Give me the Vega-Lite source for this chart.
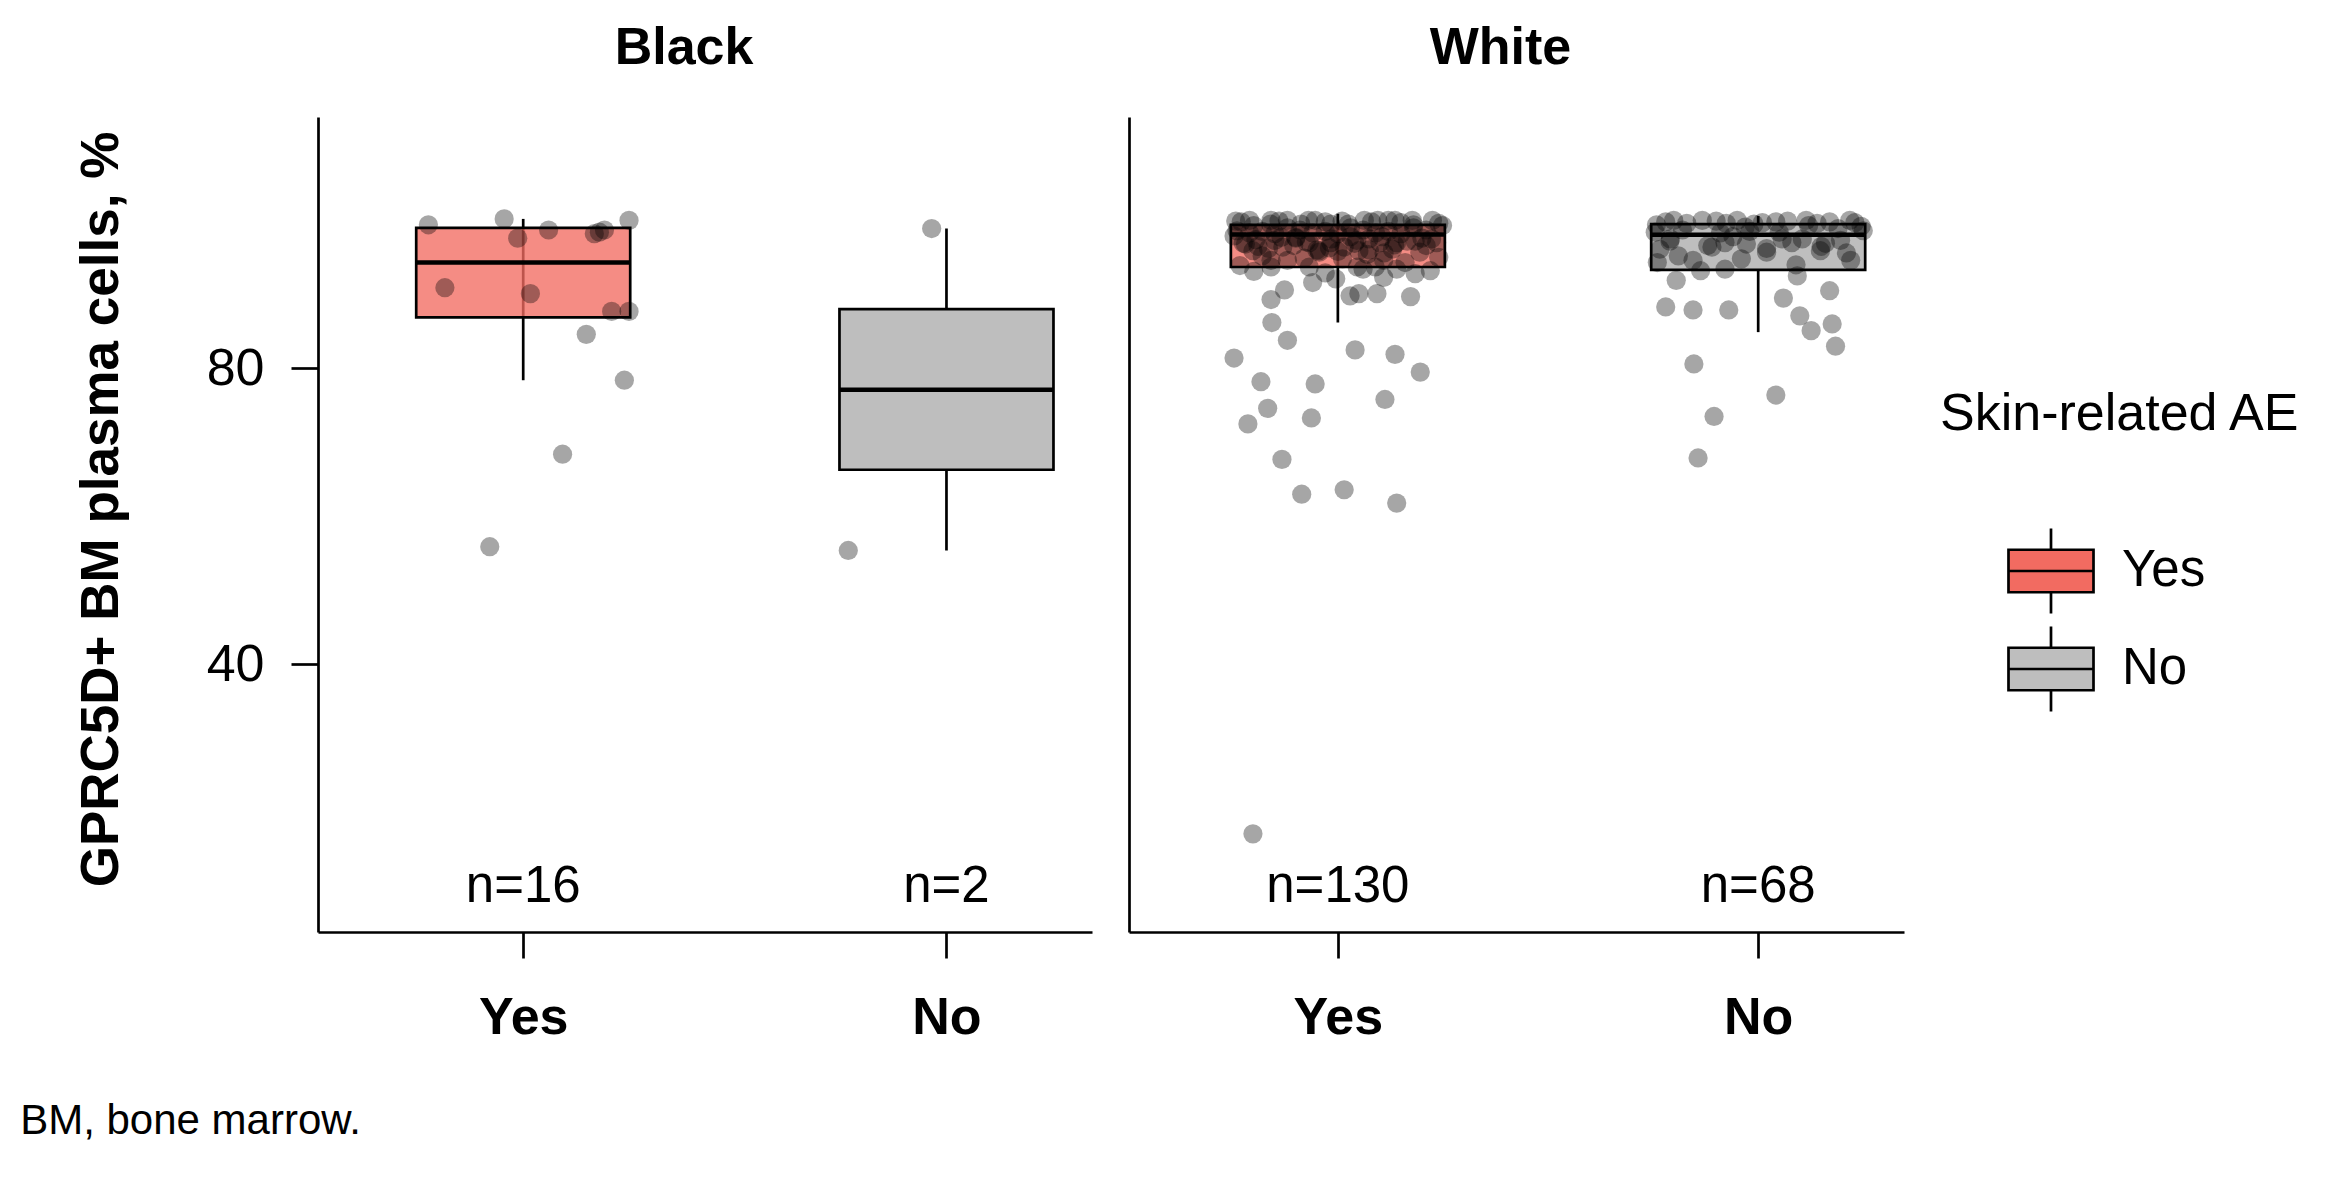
{
  "$schema": "https://vega.github.io/schema/vega-lite/v6.json",
  "background": "white",
  "padding": {"left": 20, "top": 22, "right": 5, "bottom": 5},
  "title": {"text": "BM, bone marrow.", "orient": "bottom", "anchor": "start", "frame": "bounds", "fontSize": 42, "fontWeight": "normal", "color": "black", "dx": -55, "offset": 91, "baseline": "alphabetic", "font": "Liberation Sans"},
  "datasets": {
    "box": [
      {"race": "Black", "ae": "Yes", "lo": 78.4, "q1": 86.9, "med": 94.3, "q3": 99.0, "hi": 100.2},
      {"race": "Black", "ae": "No", "lo": 55.4, "q1": 66.3, "med": 77.1, "q3": 88.0, "hi": 98.9},
      {"race": "White", "ae": "Yes", "lo": 86.2, "q1": 93.7, "med": 98.1, "q3": 99.4, "hi": 100.9},
      {"race": "White", "ae": "No", "lo": 84.9, "q1": 93.3, "med": 98.05, "q3": 99.5, "hi": 100.6}
    ],
    "nlab": [
      {"race": "Black", "ae": "Yes", "label": "n=16"},
      {"race": "Black", "ae": "No", "label": "n=2"},
      {"race": "White", "ae": "Yes", "label": "n=130"},
      {"race": "White", "ae": "No", "label": "n=68"}
    ],
    "pts": [
      {"race": "Black", "ae": "Yes", "v": 99.4, "j": -0.224},
      {"race": "Black", "ae": "Yes", "v": 100.2, "j": -0.045},
      {"race": "Black", "ae": "Yes", "v": 97.6, "j": -0.013},
      {"race": "Black", "ae": "Yes", "v": 98.7, "j": 0.06},
      {"race": "Black", "ae": "Yes", "v": 98.2, "j": 0.168},
      {"race": "Black", "ae": "Yes", "v": 98.7, "j": 0.192},
      {"race": "Black", "ae": "Yes", "v": 100.0, "j": 0.25},
      {"race": "Black", "ae": "Yes", "v": 90.9, "j": -0.185},
      {"race": "Black", "ae": "Yes", "v": 90.1, "j": 0.017},
      {"race": "Black", "ae": "Yes", "v": 87.7, "j": 0.209},
      {"race": "Black", "ae": "Yes", "v": 87.7, "j": 0.25},
      {"race": "Black", "ae": "Yes", "v": 84.6, "j": 0.149},
      {"race": "Black", "ae": "Yes", "v": 78.4, "j": 0.239},
      {"race": "Black", "ae": "Yes", "v": 68.4, "j": 0.093},
      {"race": "Black", "ae": "Yes", "v": 55.9, "j": -0.079},
      {"race": "Black", "ae": "Yes", "v": 98.4, "j": 0.18},
      {"race": "Black", "ae": "No", "v": 98.9, "j": -0.035},
      {"race": "Black", "ae": "No", "v": 55.4, "j": -0.232},

      {"race": "White", "ae": "Yes", "v": 99.9, "j": -0.243},
      {"race": "White", "ae": "Yes", "v": 99.3, "j": -0.2},
      {"race": "White", "ae": "Yes", "v": 100.0, "j": -0.159},
      {"race": "White", "ae": "Yes", "v": 100.0, "j": -0.12},
      {"race": "White", "ae": "Yes", "v": 99.5, "j": -0.088},
      {"race": "White", "ae": "Yes", "v": 100.0, "j": -0.054},
      {"race": "White", "ae": "Yes", "v": 99.5, "j": -0.017},
      {"race": "White", "ae": "Yes", "v": 99.5, "j": 0.025},
      {"race": "White", "ae": "Yes", "v": 100.0, "j": 0.063},
      {"race": "White", "ae": "Yes", "v": 100.0, "j": 0.095},
      {"race": "White", "ae": "Yes", "v": 100.0, "j": 0.136},
      {"race": "White", "ae": "Yes", "v": 100.0, "j": 0.177},
      {"race": "White", "ae": "Yes", "v": 100.0, "j": 0.225},
      {"race": "White", "ae": "Yes", "v": 99.3, "j": 0.249},
      {"race": "White", "ae": "Yes", "v": 97.9, "j": -0.247},
      {"race": "White", "ae": "Yes", "v": 95.9, "j": -0.202},
      {"race": "White", "ae": "Yes", "v": 94.6, "j": -0.159},
      {"race": "White", "ae": "Yes", "v": 96.4, "j": -0.131},
      {"race": "White", "ae": "Yes", "v": 97.0, "j": -0.068},
      {"race": "White", "ae": "Yes", "v": 95.7, "j": -0.044},
      {"race": "White", "ae": "Yes", "v": 97.0, "j": -0.017},
      {"race": "White", "ae": "Yes", "v": 94.8, "j": 0.011},
      {"race": "White", "ae": "Yes", "v": 95.9, "j": 0.05},
      {"race": "White", "ae": "Yes", "v": 97.5, "j": 0.074},
      {"race": "White", "ae": "Yes", "v": 97.0, "j": 0.14},
      {"race": "White", "ae": "Yes", "v": 97.2, "j": 0.184},
      {"race": "White", "ae": "Yes", "v": 97.5, "j": 0.223},
      {"race": "White", "ae": "Yes", "v": 94.6, "j": 0.109},
      {"race": "White", "ae": "Yes", "v": 93.9, "j": -0.233},
      {"race": "White", "ae": "Yes", "v": 93.7, "j": -0.159},
      {"race": "White", "ae": "Yes", "v": 94.6, "j": -0.12},
      {"race": "White", "ae": "Yes", "v": 93.7, "j": -0.068},
      {"race": "White", "ae": "Yes", "v": 91.6, "j": -0.06},
      {"race": "White", "ae": "Yes", "v": 92.1, "j": -0.005},
      {"race": "White", "ae": "Yes", "v": 93.7, "j": 0.046},
      {"race": "White", "ae": "Yes", "v": 93.7, "j": 0.089},
      {"race": "White", "ae": "Yes", "v": 92.3, "j": 0.109},
      {"race": "White", "ae": "Yes", "v": 93.4, "j": 0.14},
      {"race": "White", "ae": "Yes", "v": 92.8, "j": 0.184},
      {"race": "White", "ae": "Yes", "v": 90.6, "j": -0.127},
      {"race": "White", "ae": "Yes", "v": 89.3, "j": -0.159},
      {"race": "White", "ae": "Yes", "v": 89.8, "j": 0.029},
      {"race": "White", "ae": "Yes", "v": 90.1, "j": 0.05},
      {"race": "White", "ae": "Yes", "v": 90.1, "j": 0.093},
      {"race": "White", "ae": "Yes", "v": 89.7, "j": 0.173},
      {"race": "White", "ae": "Yes", "v": 86.2, "j": -0.157},
      {"race": "White", "ae": "Yes", "v": 83.8, "j": -0.12},
      {"race": "White", "ae": "Yes", "v": 81.4, "j": -0.247},
      {"race": "White", "ae": "Yes", "v": 82.5, "j": 0.041},
      {"race": "White", "ae": "Yes", "v": 81.9, "j": 0.136},
      {"race": "White", "ae": "Yes", "v": 79.5, "j": 0.196},
      {"race": "White", "ae": "Yes", "v": 78.2, "j": -0.183},
      {"race": "White", "ae": "Yes", "v": 77.9, "j": -0.054},
      {"race": "White", "ae": "Yes", "v": 75.8, "j": 0.112},
      {"race": "White", "ae": "Yes", "v": 74.6, "j": -0.167},
      {"race": "White", "ae": "Yes", "v": 72.5, "j": -0.214},
      {"race": "White", "ae": "Yes", "v": 73.3, "j": -0.063},
      {"race": "White", "ae": "Yes", "v": 67.7, "j": -0.133},
      {"race": "White", "ae": "Yes", "v": 63.0, "j": -0.086},
      {"race": "White", "ae": "Yes", "v": 63.6, "j": 0.015},
      {"race": "White", "ae": "Yes", "v": 61.8, "j": 0.14},
      {"race": "White", "ae": "Yes", "v": 17.1, "j": -0.202},
      {"race": "White", "ae": "Yes", "v": 99.8, "j": -0.23},
      {"race": "White", "ae": "Yes", "v": 96.5, "j": -0.19},
      {"race": "White", "ae": "Yes", "v": 99.9, "j": -0.14},
      {"race": "White", "ae": "Yes", "v": 97.7, "j": -0.1},
      {"race": "White", "ae": "Yes", "v": 100.0, "j": -0.07},
      {"race": "White", "ae": "Yes", "v": 99.8, "j": -0.03},
      {"race": "White", "ae": "Yes", "v": 99.9, "j": 0.01},
      {"race": "White", "ae": "Yes", "v": 96.9, "j": 0.04},
      {"race": "White", "ae": "Yes", "v": 99.8, "j": 0.08},
      {"race": "White", "ae": "Yes", "v": 95.6, "j": 0.11},
      {"race": "White", "ae": "Yes", "v": 99.7, "j": 0.15},
      {"race": "White", "ae": "Yes", "v": 97.6, "j": 0.2},
      {"race": "White", "ae": "Yes", "v": 99.6, "j": 0.24},
      {"race": "White", "ae": "Yes", "v": 100.0, "j": -0.21},
      {"race": "White", "ae": "Yes", "v": 96.0, "j": -0.05},
      {"race": "White", "ae": "Yes", "v": 100.0, "j": 0.12},
      {"race": "White", "ae": "Yes", "v": 99.4, "j": 0.18},
      {"race": "White", "ae": "Yes", "v": 99.5, "j": -0.16},
      {"race": "White", "ae": "Yes", "v": 98.6, "j": -0.24},
      {"race": "White", "ae": "Yes", "v": 96.9, "j": -0.225},
      {"race": "White", "ae": "Yes", "v": 98.3, "j": -0.21},
      {"race": "White", "ae": "Yes", "v": 97.4, "j": -0.195},
      {"race": "White", "ae": "Yes", "v": 98.5, "j": -0.18},
      {"race": "White", "ae": "Yes", "v": 96.2, "j": -0.165},
      {"race": "White", "ae": "Yes", "v": 98.2, "j": -0.15},
      {"race": "White", "ae": "Yes", "v": 97.7, "j": -0.135},
      {"race": "White", "ae": "Yes", "v": 99.0, "j": -0.12},
      {"race": "White", "ae": "Yes", "v": 96.6, "j": -0.105},
      {"race": "White", "ae": "Yes", "v": 98.7, "j": -0.09},
      {"race": "White", "ae": "Yes", "v": 97.1, "j": -0.075},
      {"race": "White", "ae": "Yes", "v": 98.3, "j": -0.06},
      {"race": "White", "ae": "Yes", "v": 95.9, "j": -0.045},
      {"race": "White", "ae": "Yes", "v": 98.5, "j": -0.03},
      {"race": "White", "ae": "Yes", "v": 97.5, "j": -0.015},
      {"race": "White", "ae": "Yes", "v": 98.2, "j": 0.0},
      {"race": "White", "ae": "Yes", "v": 96.4, "j": 0.015},
      {"race": "White", "ae": "Yes", "v": 99.0, "j": 0.03},
      {"race": "White", "ae": "Yes", "v": 97.3, "j": 0.045},
      {"race": "White", "ae": "Yes", "v": 98.7, "j": 0.06},
      {"race": "White", "ae": "Yes", "v": 96.0, "j": 0.075},
      {"race": "White", "ae": "Yes", "v": 98.3, "j": 0.09},
      {"race": "White", "ae": "Yes", "v": 97.8, "j": 0.105},
      {"race": "White", "ae": "Yes", "v": 98.5, "j": 0.12},
      {"race": "White", "ae": "Yes", "v": 96.7, "j": 0.135},
      {"race": "White", "ae": "Yes", "v": 98.2, "j": 0.15},
      {"race": "White", "ae": "Yes", "v": 97.2, "j": 0.165},
      {"race": "White", "ae": "Yes", "v": 99.0, "j": 0.18},
      {"race": "White", "ae": "Yes", "v": 95.7, "j": 0.195},
      {"race": "White", "ae": "Yes", "v": 98.7, "j": 0.21},
      {"race": "White", "ae": "Yes", "v": 97.0, "j": 0.235},
      {"race": "White", "ae": "Yes", "v": 96.8, "j": -0.22},
      {"race": "White", "ae": "Yes", "v": 95.2, "j": -0.18},
      {"race": "White", "ae": "Yes", "v": 97.6, "j": -0.1},
      {"race": "White", "ae": "Yes", "v": 94.9, "j": -0.08},
      {"race": "White", "ae": "Yes", "v": 96.3, "j": -0.02},
      {"race": "White", "ae": "Yes", "v": 97.8, "j": 0.03},
      {"race": "White", "ae": "Yes", "v": 95.4, "j": 0.07},
      {"race": "White", "ae": "Yes", "v": 96.1, "j": 0.13},
      {"race": "White", "ae": "Yes", "v": 94.3, "j": 0.16},
      {"race": "White", "ae": "Yes", "v": 96.6, "j": 0.21},
      {"race": "White", "ae": "Yes", "v": 95.0, "j": 0.24},
      {"race": "White", "ae": "Yes", "v": 97.3, "j": -0.15},
      {"race": "White", "ae": "Yes", "v": 95.8, "j": 0.0},
      {"race": "White", "ae": "Yes", "v": 97.0, "j": 0.1},
      {"race": "White", "ae": "Yes", "v": 93.1, "j": -0.2},
      {"race": "White", "ae": "Yes", "v": 92.9, "j": -0.03},
      {"race": "White", "ae": "Yes", "v": 93.4, "j": 0.06},
      {"race": "White", "ae": "Yes", "v": 93.2, "j": 0.22},

      {"race": "White", "ae": "No", "v": 99.4, "j": -0.242},
      {"race": "White", "ae": "No", "v": 100.0, "j": -0.201},
      {"race": "White", "ae": "No", "v": 100.0, "j": -0.133},
      {"race": "White", "ae": "No", "v": 99.6, "j": -0.076},
      {"race": "White", "ae": "No", "v": 99.1, "j": -0.031},
      {"race": "White", "ae": "No", "v": 99.8, "j": 0.042},
      {"race": "White", "ae": "No", "v": 100.0, "j": 0.114},
      {"race": "White", "ae": "No", "v": 100.0, "j": 0.218},
      {"race": "White", "ae": "No", "v": 98.6, "j": 0.25},
      {"race": "White", "ae": "No", "v": 97.5, "j": -0.209},
      {"race": "White", "ae": "No", "v": 96.1, "j": -0.234},
      {"race": "White", "ae": "No", "v": 94.3, "j": -0.24},
      {"race": "White", "ae": "No", "v": 94.6, "j": -0.155},
      {"race": "White", "ae": "No", "v": 97.0, "j": -0.079},
      {"race": "White", "ae": "No", "v": 96.8, "j": -0.028},
      {"race": "White", "ae": "No", "v": 97.5, "j": 0.057},
      {"race": "White", "ae": "No", "v": 97.5, "j": 0.105},
      {"race": "White", "ae": "No", "v": 95.9, "j": 0.148},
      {"race": "White", "ae": "No", "v": 97.3, "j": 0.196},
      {"race": "White", "ae": "No", "v": 93.2, "j": -0.137},
      {"race": "White", "ae": "No", "v": 93.4, "j": -0.079},
      {"race": "White", "ae": "No", "v": 91.9, "j": -0.195},
      {"race": "White", "ae": "No", "v": 92.5, "j": 0.093},
      {"race": "White", "ae": "No", "v": 90.5, "j": 0.17},
      {"race": "White", "ae": "No", "v": 88.3, "j": -0.22},
      {"race": "White", "ae": "No", "v": 87.9, "j": -0.155},
      {"race": "White", "ae": "No", "v": 87.9, "j": -0.07},
      {"race": "White", "ae": "No", "v": 89.5, "j": 0.06},
      {"race": "White", "ae": "No", "v": 87.1, "j": 0.099},
      {"race": "White", "ae": "No", "v": 85.1, "j": 0.126},
      {"race": "White", "ae": "No", "v": 86.0, "j": 0.176},
      {"race": "White", "ae": "No", "v": 83.0, "j": 0.184},
      {"race": "White", "ae": "No", "v": 80.6, "j": -0.153},
      {"race": "White", "ae": "No", "v": 76.4, "j": 0.042},
      {"race": "White", "ae": "No", "v": 73.5, "j": -0.105},
      {"race": "White", "ae": "No", "v": 67.9, "j": -0.143},
      {"race": "White", "ae": "No", "v": 99.8, "j": -0.22},
      {"race": "White", "ae": "No", "v": 99.6, "j": -0.17},
      {"race": "White", "ae": "No", "v": 99.9, "j": -0.1},
      {"race": "White", "ae": "No", "v": 100.0, "j": -0.05},
      {"race": "White", "ae": "No", "v": 99.7, "j": 0.01},
      {"race": "White", "ae": "No", "v": 99.9, "j": 0.07},
      {"race": "White", "ae": "No", "v": 99.6, "j": 0.14},
      {"race": "White", "ae": "No", "v": 99.8, "j": 0.17},
      {"race": "White", "ae": "No", "v": 99.7, "j": 0.23},
      {"race": "White", "ae": "No", "v": 99.5, "j": -0.01},
      {"race": "White", "ae": "No", "v": 98.4, "j": -0.245},
      {"race": "White", "ae": "No", "v": 97.2, "j": -0.21},
      {"race": "White", "ae": "No", "v": 98.7, "j": -0.18},
      {"race": "White", "ae": "No", "v": 96.6, "j": -0.12},
      {"race": "White", "ae": "No", "v": 98.3, "j": -0.09},
      {"race": "White", "ae": "No", "v": 97.8, "j": -0.06},
      {"race": "White", "ae": "No", "v": 98.5, "j": -0.02},
      {"race": "White", "ae": "No", "v": 96.2, "j": 0.02},
      {"race": "White", "ae": "No", "v": 98.4, "j": 0.05},
      {"race": "White", "ae": "No", "v": 97.0, "j": 0.08},
      {"race": "White", "ae": "No", "v": 99.3, "j": 0.12},
      {"race": "White", "ae": "No", "v": 96.5, "j": 0.15},
      {"race": "White", "ae": "No", "v": 98.9, "j": 0.19},
      {"race": "White", "ae": "No", "v": 95.6, "j": 0.21},
      {"race": "White", "ae": "No", "v": 99.2, "j": 0.245},
      {"race": "White", "ae": "No", "v": 95.2, "j": -0.19},
      {"race": "White", "ae": "No", "v": 96.4, "j": -0.11},
      {"race": "White", "ae": "No", "v": 94.8, "j": -0.04},
      {"race": "White", "ae": "No", "v": 95.7, "j": 0.02},
      {"race": "White", "ae": "No", "v": 94.0, "j": 0.09},
      {"race": "White", "ae": "No", "v": 96.9, "j": 0.16},
      {"race": "White", "ae": "No", "v": 94.6, "j": 0.22}
    ]
  },
  "spacing": 37,
  "resolve": {"scale": {"x": "independent", "y": "independent", "fill": "shared", "fillOpacity": "shared"}, "legend": {"fill": "shared"}},
  "hconcat": [
    {
      "width": 774,
      "height": 815,
      "title": {"text": "Black", "fontSize": 52, "fontWeight": "bold", "anchor": "middle", "dx": -21, "offset": 1, "baseline": "alphabetic", "color": "black", "font": "Liberation Sans"},
      "layer": [
        {
          "data": {"name": "box"},
          "transform": [{"filter": "datum.race === 'Black'"}, {"calculate": "datum.ae === 'Yes' ? 1 : 2", "as": "xp"}],
          "mark": {"type": "rule", "color": "black", "strokeWidth": 2.7},
          "encoding": {
            "x": {"field": "xp", "type": "quantitative", "scale": {"domain": [0.527, 2.332], "nice": false, "zero": false},
                  "axis": {"values": [1, 2], "labelExpr": "datum.value === 1 ? 'Yes' : 'No'", "title": null}},
            "y": {"field": "lo", "type": "quantitative", "scale": {"domain": [3.84, 113.97], "nice": false, "zero": false},
                  "axis": {"values": [40, 80], "title": "GPRC5D+ BM plasma cells, %", "titleY": 392}},
            "y2": {"field": "hi"}
          }
        },
        {
          "data": {"name": "box"},
          "transform": [{"filter": "datum.race === 'Black'"}, {"calculate": "datum.ae === 'Yes' ? 1 : 2", "as": "xp"}],
          "mark": {"type": "bar", "orient": "vertical", "width": 214, "stroke": "black", "strokeWidth": 2.7, "strokeOpacity": 1},
          "encoding": {
            "x": {"field": "xp", "type": "quantitative"},
            "y": {"field": "q1", "type": "quantitative"},
            "y2": {"field": "q3"},
            "fillOpacity": {"field": "ae", "type": "nominal", "scale": {"domain": ["Yes", "No"], "range": [0.78, 1]}, "legend": null},
            "fill": {"field": "ae", "type": "nominal", "scale": {"domain": ["Yes", "No"], "range": ["#F26B61", "#BEBEBE"]},
                     "legend": {"title": "Skin-related AE", "orient": "none", "legendX": 1622, "legendY": 272, "padding": 0,
                                "titleFontSize": 52, "titleFontWeight": "normal", "titleColor": "black", "titleFont": "Liberation Sans", "titlePadding": 86, "titleLimit": 1000,
                                "labelFontSize": 51, "labelColor": "black", "labelFont": "Liberation Sans", "labelOffset": 27,
                                "symbolType": "M0,-1V-0.5M-1,-0.5H1V0.5H-1ZM-1,0H1M0,0.5V1", "symbolSize": 7225, "symbolOpacity": 1,
                                "symbolStrokeColor": "black", "symbolStrokeWidth": 2.7, "symbolOffset": 67, "rowPadding": 2}}
          }
        },
        {
          "data": {"name": "box"},
          "transform": [{"filter": "datum.race === 'Black'"}, {"calculate": "datum.ae === 'Yes' ? 1 : 2", "as": "xp"}],
          "mark": {"type": "tick", "orient": "horizontal", "size": 214, "thickness": 4.5, "color": "black", "opacity": 1},
          "encoding": {
            "x": {"field": "xp", "type": "quantitative"},
            "y": {"field": "med", "type": "quantitative"}
          }
        },
        {
          "data": {"name": "pts"},
          "transform": [{"filter": "datum.race === 'Black'"}, {"calculate": "(datum.ae === 'Yes' ? 1 : 2) + datum.j", "as": "xp"}],
          "mark": {"type": "circle", "size": 370, "color": "black", "opacity": 0.35, "strokeWidth": 0},
          "encoding": {
            "x": {"field": "xp", "type": "quantitative"},
            "y": {"field": "v", "type": "quantitative"}
          }
        },
        {
          "data": {"name": "nlab"},
          "transform": [{"filter": "datum.race === 'Black'"}, {"calculate": "datum.ae === 'Yes' ? 1 : 2", "as": "xp"}],
          "mark": {"type": "text", "fontSize": 51, "color": "black", "baseline": "alphabetic", "align": "center", "font": "Liberation Sans"},
          "encoding": {
            "x": {"field": "xp", "type": "quantitative"},
            "y": {"datum": 7.85, "type": "quantitative"},
            "text": {"field": "label"}
          }
        }
      ]
    },
    {
      "width": 775,
      "height": 815,
      "title": {"text": "White", "fontSize": 52, "fontWeight": "bold", "anchor": "middle", "dx": -16, "offset": 1, "baseline": "alphabetic", "color": "black", "font": "Liberation Sans"},
      "layer": [
        {
          "data": {"name": "box"},
          "transform": [{"filter": "datum.race === 'White'"}, {"calculate": "datum.ae === 'Yes' ? 1 : 2", "as": "xp"}],
          "mark": {"type": "rule", "color": "black", "strokeWidth": 2.7},
          "encoding": {
            "x": {"field": "xp", "type": "quantitative", "scale": {"domain": [0.515, 2.335], "nice": false, "zero": false},
                  "axis": {"values": [1, 2], "labelExpr": "datum.value === 1 ? 'Yes' : 'No'", "title": null}},
            "y": {"field": "lo", "type": "quantitative", "scale": {"domain": [3.84, 113.97], "nice": false, "zero": false},
                  "axis": {"title": null, "labels": false, "ticks": false, "values": [40, 80]}},
            "y2": {"field": "hi"}
          }
        },
        {
          "data": {"name": "box"},
          "transform": [{"filter": "datum.race === 'White'"}, {"calculate": "datum.ae === 'Yes' ? 1 : 2", "as": "xp"}],
          "mark": {"type": "bar", "orient": "vertical", "width": 214, "stroke": "black", "strokeWidth": 2.7, "strokeOpacity": 1},
          "encoding": {
            "x": {"field": "xp", "type": "quantitative"},
            "y": {"field": "q1", "type": "quantitative"},
            "y2": {"field": "q3"},
            "fillOpacity": {"field": "ae", "type": "nominal", "scale": {"domain": ["Yes", "No"], "range": [0.78, 1]}, "legend": null},
            "fill": {"field": "ae", "type": "nominal", "scale": {"domain": ["Yes", "No"], "range": ["#F26B61", "#BEBEBE"]},
                     "legend": {"title": "Skin-related AE", "orient": "none", "legendX": 1622, "legendY": 272, "padding": 0,
                                "titleFontSize": 52, "titleFontWeight": "normal", "titleColor": "black", "titleFont": "Liberation Sans", "titlePadding": 86, "titleLimit": 1000,
                                "labelFontSize": 51, "labelColor": "black", "labelFont": "Liberation Sans", "labelOffset": 27,
                                "symbolType": "M0,-1V-0.5M-1,-0.5H1V0.5H-1ZM-1,0H1M0,0.5V1", "symbolSize": 7225, "symbolOpacity": 1,
                                "symbolStrokeColor": "black", "symbolStrokeWidth": 2.7, "symbolOffset": 67, "rowPadding": 2}}
          }
        },
        {
          "data": {"name": "box"},
          "transform": [{"filter": "datum.race === 'White'"}, {"calculate": "datum.ae === 'Yes' ? 1 : 2", "as": "xp"}],
          "mark": {"type": "tick", "orient": "horizontal", "size": 214, "thickness": 4.5, "color": "black", "opacity": 1},
          "encoding": {
            "x": {"field": "xp", "type": "quantitative"},
            "y": {"field": "med", "type": "quantitative"}
          }
        },
        {
          "data": {"name": "pts"},
          "transform": [{"filter": "datum.race === 'White'"}, {"calculate": "(datum.ae === 'Yes' ? 1 : 2) + datum.j", "as": "xp"}],
          "mark": {"type": "circle", "size": 370, "color": "black", "opacity": 0.35, "strokeWidth": 0},
          "encoding": {
            "x": {"field": "xp", "type": "quantitative"},
            "y": {"field": "v", "type": "quantitative"}
          }
        },
        {
          "data": {"name": "nlab"},
          "transform": [{"filter": "datum.race === 'White'"}, {"calculate": "datum.ae === 'Yes' ? 1 : 2", "as": "xp"}],
          "mark": {"type": "text", "fontSize": 51, "color": "black", "baseline": "alphabetic", "align": "center", "font": "Liberation Sans"},
          "encoding": {
            "x": {"field": "xp", "type": "quantitative"},
            "y": {"datum": 7.85, "type": "quantitative"},
            "text": {"field": "label"}
          }
        }
      ]
    }
  ],
  "config": {
    "font": "Liberation Sans",
    "view": {"stroke": null},
    "axis": {
      "grid": false, "domainColor": "black", "domainWidth": 2.7, "tickColor": "black", "tickWidth": 2.7,
      "labelColor": "black", "titleColor": "black", "labelFont": "Liberation Sans", "titleFont": "Liberation Sans"
    },
    "axisX": {"tickSize": 26, "labelFontSize": 52, "labelFontWeight": "bold", "labelPadding": 34},
    "axisY": {"tickSize": 27, "labelFontSize": 52, "labelPadding": 27, "titleFontSize": 53, "titleFontWeight": "bold", "titlePadding": 78}
  }
}
